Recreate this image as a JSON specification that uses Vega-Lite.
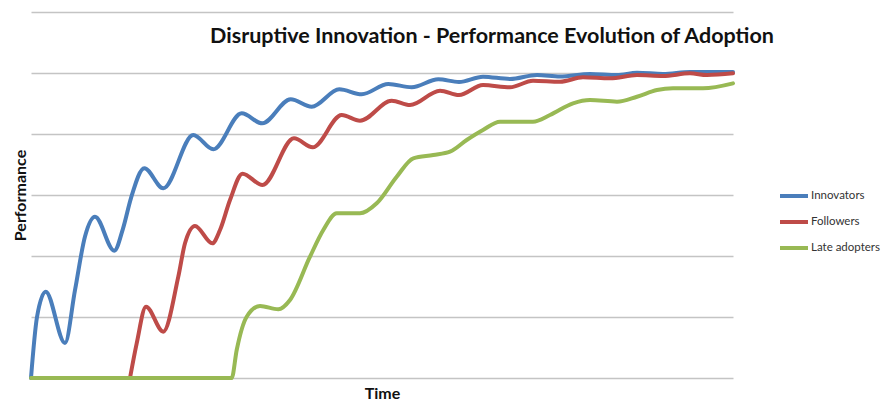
{
  "$schema": "https://vega.github.io/schema/vega-lite/v6.json",
  "autosize": {"type": "none"},
  "width": 702,
  "height": 366,
  "padding": {"left": 31, "top": 12, "right": 150, "bottom": 23},
  "background": "white",
  "config": {"view": {"stroke": null}, "font": "Lato"},
  "title": {
    "text": "Disruptive Innovation - Performance Evolution of Adoption",
    "font": "Lato",
    "fontSize": 21.5,
    "fontWeight": "bold",
    "color": "#111111",
    "anchor": "middle",
    "frame": "group",
    "dx": 110,
    "offset": -35
  },
  "data": {
    "values": [
      {"series": "Innovators", "t": 0, "perf": 0},
      {"series": "Innovators", "t": 6, "perf": 1.0},
      {"series": "Innovators", "t": 14.7, "perf": 1.415},
      {"series": "Innovators", "t": 34, "perf": 0.574},
      {"series": "Innovators", "t": 44, "perf": 1.44},
      {"series": "Innovators", "t": 54, "perf": 2.32},
      {"series": "Innovators", "t": 64, "perf": 2.644},
      {"series": "Innovators", "t": 83.3, "perf": 2.087},
      {"series": "Innovators", "t": 92, "perf": 2.45},
      {"series": "Innovators", "t": 100, "perf": 2.95},
      {"series": "Innovators", "t": 113.3, "perf": 3.438},
      {"series": "Innovators", "t": 132.3, "perf": 3.11},
      {"series": "Innovators", "t": 162.3, "perf": 3.984},
      {"series": "Innovators", "t": 182.3, "perf": 3.749},
      {"series": "Innovators", "t": 210.7, "perf": 4.339},
      {"series": "Innovators", "t": 231.2, "perf": 4.175},
      {"series": "Innovators", "t": 259.7, "perf": 4.569},
      {"series": "Innovators", "t": 280.7, "perf": 4.448},
      {"series": "Innovators", "t": 308.3, "perf": 4.733},
      {"series": "Innovators", "t": 330.7, "perf": 4.651},
      {"series": "Innovators", "t": 357.3, "perf": 4.82},
      {"series": "Innovators", "t": 380.7, "perf": 4.766},
      {"series": "Innovators", "t": 407.3, "perf": 4.897},
      {"series": "Innovators", "t": 428, "perf": 4.852},
      {"series": "Innovators", "t": 452, "perf": 4.939},
      {"series": "Innovators", "t": 479, "perf": 4.902},
      {"series": "Innovators", "t": 506, "perf": 4.967},
      {"series": "Innovators", "t": 529, "perf": 4.943},
      {"series": "Innovators", "t": 559, "perf": 4.984},
      {"series": "Innovators", "t": 586, "perf": 4.967},
      {"series": "Innovators", "t": 606, "perf": 5.005},
      {"series": "Innovators", "t": 632, "perf": 4.984},
      {"series": "Innovators", "t": 659, "perf": 5.016},
      {"series": "Innovators", "t": 702, "perf": 5.016},
      {"series": "Followers", "t": 99, "perf": 0},
      {"series": "Followers", "t": 105.7, "perf": 0.568},
      {"series": "Followers", "t": 115, "perf": 1.169},
      {"series": "Followers", "t": 132.3, "perf": 0.759},
      {"series": "Followers", "t": 147.3, "perf": 1.661},
      {"series": "Followers", "t": 154, "perf": 2.208},
      {"series": "Followers", "t": 164, "perf": 2.492},
      {"series": "Followers", "t": 181.3, "perf": 2.208},
      {"series": "Followers", "t": 189, "perf": 2.426},
      {"series": "Followers", "t": 199, "perf": 2.918},
      {"series": "Followers", "t": 211.5, "perf": 3.349},
      {"series": "Followers", "t": 231.5, "perf": 3.164},
      {"series": "Followers", "t": 263, "perf": 3.93},
      {"series": "Followers", "t": 281.7, "perf": 3.782},
      {"series": "Followers", "t": 310.7, "perf": 4.311},
      {"series": "Followers", "t": 329, "perf": 4.218},
      {"series": "Followers", "t": 360.7, "perf": 4.546},
      {"series": "Followers", "t": 379, "perf": 4.475},
      {"series": "Followers", "t": 409, "perf": 4.71},
      {"series": "Followers", "t": 428, "perf": 4.639},
      {"series": "Followers", "t": 452, "perf": 4.803},
      {"series": "Followers", "t": 479, "perf": 4.766},
      {"series": "Followers", "t": 502, "perf": 4.874},
      {"series": "Followers", "t": 529, "perf": 4.857},
      {"series": "Followers", "t": 552, "perf": 4.93},
      {"series": "Followers", "t": 579, "perf": 4.913},
      {"series": "Followers", "t": 606, "perf": 4.967},
      {"series": "Followers", "t": 632, "perf": 4.951},
      {"series": "Followers", "t": 659, "perf": 4.995},
      {"series": "Followers", "t": 676, "perf": 4.967},
      {"series": "Followers", "t": 702, "perf": 4.995},
      {"series": "Late adopters", "t": 0, "perf": 0},
      {"series": "Late adopters", "t": 200.7, "perf": 0},
      {"series": "Late adopters", "t": 205.7, "perf": 0.459},
      {"series": "Late adopters", "t": 215.7, "perf": 1.005},
      {"series": "Late adopters", "t": 229, "perf": 1.18},
      {"series": "Late adopters", "t": 247.3, "perf": 1.126},
      {"series": "Late adopters", "t": 259, "perf": 1.279},
      {"series": "Late adopters", "t": 279, "perf": 1.989},
      {"series": "Late adopters", "t": 292.3, "perf": 2.426},
      {"series": "Late adopters", "t": 305.7, "perf": 2.7},
      {"series": "Late adopters", "t": 329, "perf": 2.7},
      {"series": "Late adopters", "t": 345.7, "perf": 2.864},
      {"series": "Late adopters", "t": 365.7, "perf": 3.3},
      {"series": "Late adopters", "t": 382.3, "perf": 3.602},
      {"series": "Late adopters", "t": 402.3, "perf": 3.656},
      {"series": "Late adopters", "t": 419, "perf": 3.71},
      {"series": "Late adopters", "t": 435.7, "perf": 3.902},
      {"series": "Late adopters", "t": 452, "perf": 4.066},
      {"series": "Late adopters", "t": 469, "perf": 4.202},
      {"series": "Late adopters", "t": 502, "perf": 4.202},
      {"series": "Late adopters", "t": 519, "perf": 4.311},
      {"series": "Late adopters", "t": 542, "perf": 4.503},
      {"series": "Late adopters", "t": 559, "perf": 4.557},
      {"series": "Late adopters", "t": 586, "perf": 4.53},
      {"series": "Late adopters", "t": 606, "perf": 4.611},
      {"series": "Late adopters", "t": 626, "perf": 4.721},
      {"series": "Late adopters", "t": 642, "perf": 4.749},
      {"series": "Late adopters", "t": 672, "perf": 4.749},
      {"series": "Late adopters", "t": 702, "perf": 4.83}
    ]
  },
  "mark": {"type": "line", "interpolate": "monotone", "strokeWidth": 4, "strokeCap": "round", "strokeJoin": "round"},
  "encoding": {
    "x": {
      "field": "t",
      "type": "quantitative",
      "scale": {"domain": [0, 702], "nice": false, "zero": false},
      "axis": {
        "title": "Time",
        "titleFont": "Lato",
        "titleFontSize": 16,
        "titleFontWeight": "bold",
        "titleColor": "#111111",
        "titlePadding": 7,
        "labels": false,
        "ticks": false,
        "domain": false,
        "grid": false
      }
    },
    "y": {
      "field": "perf",
      "type": "quantitative",
      "scale": {"domain": [0, 6], "nice": false},
      "axis": {
        "title": "Performance",
        "titleFont": "Lato",
        "titleFontSize": 16,
        "titleFontWeight": "bold",
        "titleColor": "#111111",
        "titlePadding": 3,
        "values": [0, 1, 2, 3, 4, 5, 6],
        "labels": false,
        "ticks": false,
        "domain": false,
        "grid": true,
        "gridColor": "#c4c4c4",
        "gridWidth": 1.5
      }
    },
    "color": {
      "field": "series",
      "type": "nominal",
      "sort": ["Innovators", "Followers", "Late adopters"],
      "scale": {"domain": ["Innovators", "Followers", "Late adopters"], "range": ["#4a7ebb", "#be4b48", "#98b954"]},
      "legend": {
        "title": null,
        "orient": "none",
        "legendX": 747,
        "legendY": 168,
        "symbolType": "stroke",
        "symbolSize": 784,
        "symbolStrokeWidth": 4,
        "labelFont": "Lato",
        "labelFontSize": 11.5,
        "labelColor": "#333333",
        "labelOffset": 1,
        "rowPadding": 2
      }
    }
  }
}
